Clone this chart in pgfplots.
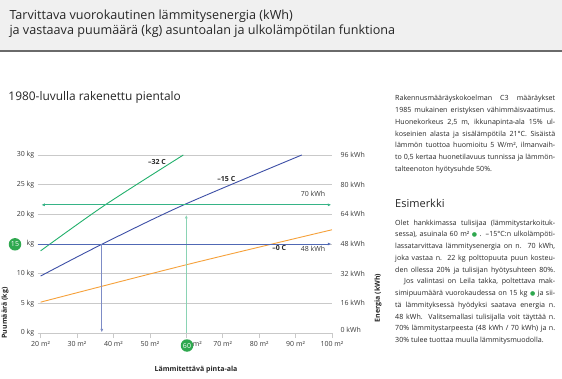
\documentclass[border=0pt]{standalone}
\usepackage{pgfplots}
\pgfplotsset{compat=1.18}
\usetikzlibrary{arrows.meta}
\usepackage{fontspec}
\setmainfont{Open Sans}
\newfontfamily\dejavu{DejaVu Sans}
\definecolor{cgrid}{HTML}{C9C9C9}
\definecolor{cband}{HTML}{F0F0F0}
\definecolor{crule}{HTML}{6A6A6A}
\definecolor{ctext}{HTML}{262626}
\definecolor{clab}{HTML}{3A3A3A}
\definecolor{c32}{HTML}{22B06C}
\definecolor{c15}{HTML}{3D4FA6}
\definecolor{c0}{HTML}{F6A13A}
\definecolor{cag}{HTML}{36B386}
\definecolor{cvg}{HTML}{8AD3B4}
\definecolor{cab}{HTML}{5068B4}
\definecolor{cvb}{HTML}{7D8CC6}
\definecolor{cgc}{HTML}{2FA84F}
\newcommand\rt{\fontsize{7.1}{9}\selectfont}
\newcommand\lab{\fontsize{7}{8}\selectfont}
\newcommand\dotg{\textcolor{cgc}{\dejavu\scalebox{0.85}{●}}}
\newcommand\tl[2]{\node[anchor=base west,inner sep=0pt,font=\rt,text=ctext] at (395pt,-#1pt) {\makebox[160pt][s]{#2}};}
\newcommand\tlast[2]{\node[anchor=base west,inner sep=0pt,font=\rt,text=ctext] at (395pt,-#1pt) {#2};}
\begin{document}
\begin{tikzpicture}
\useasboundingbox (0,0) rectangle (562pt,-379pt);
\fill[white] (0,0) rectangle (562pt,-379pt);
\fill[cband] (0,0) rectangle (562pt,-51pt);
\draw[crule, line width=1.2pt] (0,-51pt) -- (562pt,-51pt);
\node[anchor=base west,inner sep=0pt,font=\fontsize{12.6}{15}\selectfont,text=ctext] at (9.3pt,-19.5pt) {Tarvittava vuorokautinen lämmitysenergia (kWh)};
\node[anchor=base west,inner sep=0pt,font=\fontsize{12.6}{15}\selectfont,text=ctext] at (9.3pt,-35pt) {ja vastaava puumäärä (kg) asuntoalan ja ulkolämpötilan funktiona};
\node[anchor=base west,inner sep=0pt,font=\fontsize{11.9}{14}\selectfont,text=ctext] at (8.3pt,-101pt) {1980-luvulla rakenettu pientalo};
\begin{axis}[
  at={(37.7pt,-333pt)}, anchor=south west,
  scale only axis, width=294.3pt, height=178pt,
  xmin=19.2, xmax=100, ymin=0, ymax=30,
  axis line style={draw=none},
  clip=false,
  ytick={0,5,10,15,20,25,30},
  yticklabels={0 kg,5 kg,10 kg,kg,20 kg,25 kg,30 kg},
  ymajorgrids, grid style={cgrid, line width=0.8pt},
  ytick style={draw=none},
  xtick={20,30,40,50,60,70,80,90,100},
  xticklabels={20 m²,30 m²,40 m²,50 m²,\makebox[0pt][l]{\hspace{6.5pt}m²},70 m²,80 m²,90 m²,100 m²},
  xtick pos=left, xtick align=outside, major tick length=5pt,
  xtick style={cgrid, line width=0.7pt},
  ticklabel style={font=\lab, text=clab},
]
\addplot[c32, line width=0.9pt, smooth] coordinates {(20,13.85)(37.68,21.57)(59.18,30)};
\addplot[c15, line width=0.9pt, smooth] coordinates {(20,9.6)(36.8,14.95)(59.2,21.57)(91.7,30)};
\addplot[c0, line width=0.9pt, smooth] coordinates {(20,5.2)(60,11.5)(100,17.4)};
\addplot[cvg, line width=0.9pt, arrows={-Latex[length=3.5pt,width=3pt]}] coordinates {(60,0)(60,19.9)};
\addplot[cag, line width=0.9pt, arrows={Latex[length=3.5pt,width=3pt]-Latex[length=3.5pt,width=3pt]}] coordinates {(20.2,21.6)(99.8,21.6)};
\addplot[cab, line width=0.9pt, arrows={-Latex[length=3.5pt,width=3pt]}] coordinates {(19.2,15)(99.8,15)};
\addplot[cvb, line width=0.9pt, arrows={-Latex[length=3.5pt,width=3pt]}] coordinates {(36.8,15)(36.8,0.1)};
\node[font=\bfseries\lab,text=ctext] at (axis cs:51.96,28.8) {–32 C};
\node[font=\bfseries\lab,text=ctext] at (axis cs:71.0,25.96) {–15 C};
\node[font=\bfseries\lab,text=ctext] at (axis cs:85.5,14.3) {–0 C};
\node[font=\lab,text=clab] at (axis cs:94.8,23.4) {70 kWh};
\node[font=\lab,text=clab] at (axis cs:94.8,14.2) {48 kWh};
\node[anchor=west,font=\lab,text=clab] at (axis cs:101.4,30) {96 kWh};
\node[anchor=west,font=\lab,text=clab] at (axis cs:101.4,25) {80 kWh};
\node[anchor=west,font=\lab,text=clab] at (axis cs:101.4,20) {64 kWh};
\node[anchor=west,font=\lab,text=clab] at (axis cs:101.4,15) {48 kWh};
\node[anchor=west,font=\lab,text=clab] at (axis cs:101.4,10) {32 kWh};
\node[anchor=west,font=\lab,text=clab] at (axis cs:101.4,5) {16 kWh};
\node[anchor=west,font=\lab,text=clab] at (axis cs:101.4,0.5) {0 kWh};
\end{axis}
\node[circle,fill=cgc,inner sep=0pt,minimum size=12.5pt,text=white,font=\lab] at (15pt,-244.3pt) {15};
\node[circle,fill=cgc,inner sep=0pt,minimum size=12.5pt,text=white,font=\lab] at (187pt,-345.5pt) {60};
\node[rotate=90,font=\bfseries\lab,text=ctext] at (5pt,-313pt) {Puumäärä (kg)};
\node[rotate=90,font=\bfseries\lab,text=ctext] at (378pt,-298pt) {Energia (kWh)};
\node[font=\bfseries\lab,text=ctext] at (196pt,-370pt) {Lämmitettävä pinta-ala};
% right text, paragraph 1
\tl{101}{Rakennusmääräyskokoelman C3 määräykset}
\tl{112.7}{1985 mukainen eristyksen vähimmäisvaatimus.}
\tl{124.4}{Huonekorkeus 2,5 m, ikkunapinta-ala 15\% ul-}
\tl{136.1}{koseinien alasta ja sisälämpötila 21°C. Sisäistä}
\tl{147.8}{lämmön tuottoa huomioitu 5 W/m², ilmanvaih-}
\tl{159.5}{to 0,5 kertaa huonetilavuus tunnissa ja lämmön-}
\tlast{171.2}{talteenoton hyötysuhde 50\%.}
\node[anchor=base west,inner sep=0pt,font=\fontsize{11}{13}\selectfont,text=ctext] at (395pt,-207.2pt) {Esimerkki};
% paragraph 2
\tl{225.2}{Olet hankkimassa tulisijaa (lämmitystarkoituk-}
\tl{236.95}{sessa), asuinala 60 m² \dotg{} . –15°C:n ulkolämpöti-}
\tl{248.7}{lassatarvittava lämmitysenergia on n. 70 kWh,}
\tl{260.45}{joka vastaa n. 22 kg polttopuuta puun kosteu-}
\tl{272.2}{den ollessa 20\% ja tulisijan hyötysuhteen 80\%.}
\tl{283.95}{\hspace*{9pt}Jos valintasi on Leila takka, poltettava mak-}
\tl{295.7}{simipuumäärä vuorokaudessa on 15 kg \dotg{} ja sii-}
\tl{307.45}{tä lämmityksessä hyödyksi saatava energia n.}
\tl{319.2}{48 kWh. Valitsemallasi tulisijalla voit täyttää n.}
\tl{330.95}{70\% lämmitystarpeesta (48 kWh / 70 kWh) ja n.}
\tlast{342.7}{30\% tulee tuottaa muulla lämmitysmuodolla.}
\end{tikzpicture}
\end{document}
